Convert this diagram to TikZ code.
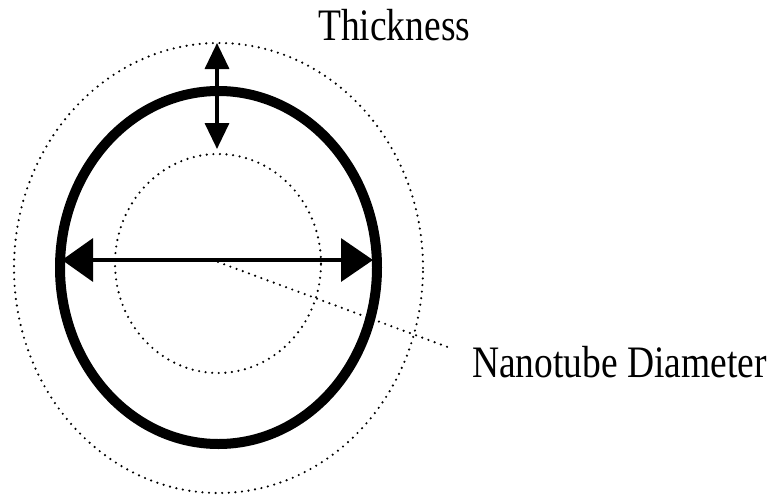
\documentclass[tikz,border=0pt]{standalone}
\usepackage{fontspec}
\usepackage{graphicx}
\setmainfont{Liberation Serif}
\usetikzlibrary{arrows.meta}
\tikzset{
  dotline/.style={line width=2.4pt, line cap=round, dash pattern=on 0pt off 6.6pt},
  tube/.style={line width=10pt},
  dimarrow/.style={line width=3.5pt, {Triangle[length=31pt,width=43pt]}-{Triangle[length=32pt,width=43pt]}},
  thkarrow/.style={line width=3.5pt, {Triangle[length=26pt,width=24pt]}-{Triangle[length=26pt,width=24pt]}},
  lbl/.style={inner sep=0pt, font=\fontsize{37.5pt}{40pt}\selectfont}
}
\begin{document}
\begin{tikzpicture}[x=1pt,y=-1pt]
\useasboundingbox (0,0) rectangle (777,496);
% shapes
\draw[dotline] (218.5,268) ellipse [x radius=204.5pt, y radius=225pt];
\draw[dotline] (218,263.5) ellipse [x radius=103pt, y radius=109.5pt];
\draw[tube] (218.5,267.5) ellipse [x radius=158.5pt, y radius=176.5pt];
% coordinates
\coordinate (c) at (218,262);
\coordinate (hl) at (62,260);
\coordinate (hr) at (373,260);
\coordinate (vt) at (217,43);
\coordinate (vb) at (217,149);
\coordinate (lead) at (453,349);
% arrows
\draw[dimarrow] (hl) -- (hr);
\draw[thkarrow] (vt) -- (vb);
% labels
\node[lbl, anchor=base west] (thk) at (318,40) {\scalebox{1}[1.2]{Thickness}};
\node[lbl, anchor=base west] (nd) at (472,377) {\scalebox{1}[1.2]{Nanotube Diameter}};
\draw[dotline] (c) -- (lead);
\end{tikzpicture}
\end{document}
